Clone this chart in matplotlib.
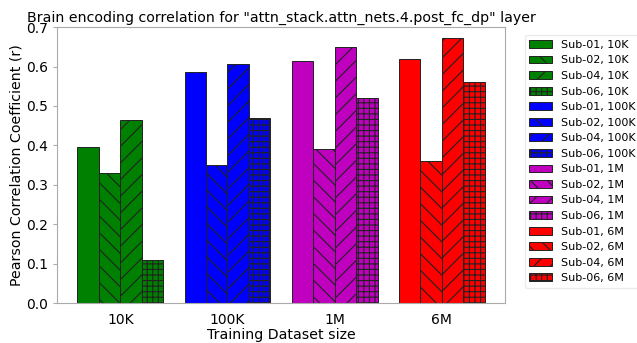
import numpy as np
import matplotlib.pyplot as plt
import seaborn as sns

sns.set_style("white")
plt.rcParams['hatch.linewidth'] = 0.8
plt.rcParams['text.color'] = 'black'
plt.rcParams['axes.labelcolor'] = 'black'
plt.rcParams['xtick.color'] = 'black'
plt.rcParams['ytick.color'] = 'black'

sizes = ["10K", "100K", "1M", "6M"]
subjects = ["Sub-01", "Sub-02", "Sub-04", "Sub-06"]
colors = ["g", "b", "m", "r"]
hatches = ["", "\\\\", "//", "+++"]

# rows: subjects, columns: dataset sizes
sub01 = [0.395, 0.585, 0.615, 0.620]
sub02 = [0.330, 0.350, 0.390, 0.360]
sub04 = [0.465, 0.607, 0.650, 0.672]
sub06 = [0.110, 0.470, 0.520, 0.560]
scores = [sub01, sub02, sub04, sub06]

fig, ax = plt.subplots(figsize=(6.37, 3.43), dpi=100)

width = 0.2
x = np.arange(len(sizes))
for i, size in enumerate(sizes):
    for j, sub in enumerate(subjects):
        ax.bar(x[i] + (j - 1.5) * width, scores[j][i], width,
               color=colors[i], hatch=hatches[j], edgecolor="#222222",
               linewidth=0.7, label=sub + ", " + size)

ax.set_xticks(x)
ax.set_xticklabels(sizes, fontsize=10)
ax.tick_params(axis="y", labelsize=10, left=True, length=3, color="#aaaaaa")
ax.set_ylim(0, 0.7)
ax.set_xlabel("Training Dataset size", fontsize=10.2, labelpad=1)
ax.set_ylabel("Pearson Correlation Coefficient (r)", fontsize=10.2, labelpad=2)
ax.set_title('Brain encoding correlation for "attn_stack.attn_nets.4.post_fc_dp" layer',
             fontsize=10.2, pad=4)
for s in ax.spines.values():
    s.set_color("#aaaaaa")
ax.legend(loc="upper left", bbox_to_anchor=(1.032, 0.99), fontsize=8,
          frameon=True, edgecolor="#e6e6e6")

plt.subplots_adjust(left=0.0895, right=0.793, top=0.921, bottom=0.1166)
plt.savefig("out.png")
